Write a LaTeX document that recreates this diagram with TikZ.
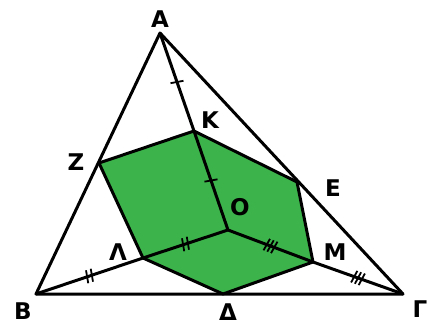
\documentclass[tikz,border=0pt]{standalone}
\usepackage{fontspec}
\setmainfont{DejaVu Sans}
\usetikzlibrary{decorations.markings}
\definecolor{hexgreen}{RGB}{60,180,75}
\begin{document}
\begin{tikzpicture}[x=1pt,y=-1pt, line width=3pt, line join=round,
 lbl/.style={font=\bfseries\fontsize{23}{23}\selectfont, inner sep=0pt},
 tickone/.style={postaction={decorate}, decoration={markings, mark=at position 0.5 with {\draw[line width=1.8pt] (-1pt,-6.5pt)--(1pt,6.5pt);}}},
 ticktwo/.style={postaction={decorate}, decoration={markings, mark=at position 0.5 with {\draw[line width=1.8pt] (-3.5pt,-6.5pt)--(-1.5pt,6.5pt) (1.5pt,-6.5pt)--(3.5pt,6.5pt);}}},
 tickthree/.style={postaction={decorate}, decoration={markings, mark=at position 0.5 with {\draw[line width=1.8pt] (-5pt,-6.5pt)--(-3pt,6.5pt) (-1pt,-6.5pt)--(1pt,6.5pt) (3pt,-6.5pt)--(5pt,6.5pt);}}}]
\useasboundingbox (0,0) rectangle (428,326);
\coordinate (A) at (160,33);
\coordinate (B) at (36,294);
\coordinate (G) at (403,294);
\coordinate (O) at (228,230);
\coordinate (K) at (194,131);
\coordinate (Z) at (99,163);
\coordinate (E) at (297,182);
\coordinate (L) at (143,258);
\coordinate (M) at (313,262);
\coordinate (D) at (223,294);
\fill[hexgreen] (Z) -- (K) -- (E) -- (M) -- (D) -- (L) -- cycle;
\draw (A) -- (B) -- (G) -- cycle;
\draw[tickone] (A) -- (K);
\draw[tickone] (K) -- (O);
\draw[ticktwo] (B) -- (L);
\draw[ticktwo] (L) -- (O);
\draw[tickthree] (O) -- (M);
\draw[tickthree] (M) -- (G);
\draw (Z) -- (K) -- (E) -- (M) -- (D) -- (L) -- cycle;
\node[lbl] (lA) at (160,19) {Α};
\node[lbl] (lK) at (210,120) {Κ};
\node[lbl] (lZ) at (76,162) {Ζ};
\node[lbl] (lE) at (333,188) {Ε};
\node[lbl] (lO) at (240,207) {Ο};
\node[lbl] (lL) at (118,252) {Λ};
\node[lbl] (lM) at (335,252) {Μ};
\node[lbl] (lB) at (23,311) {Β};
\node[lbl] (lD) at (228,312) {Δ};
\node[lbl] (lG) at (420,309) {Γ};
\end{tikzpicture}
\end{document}
